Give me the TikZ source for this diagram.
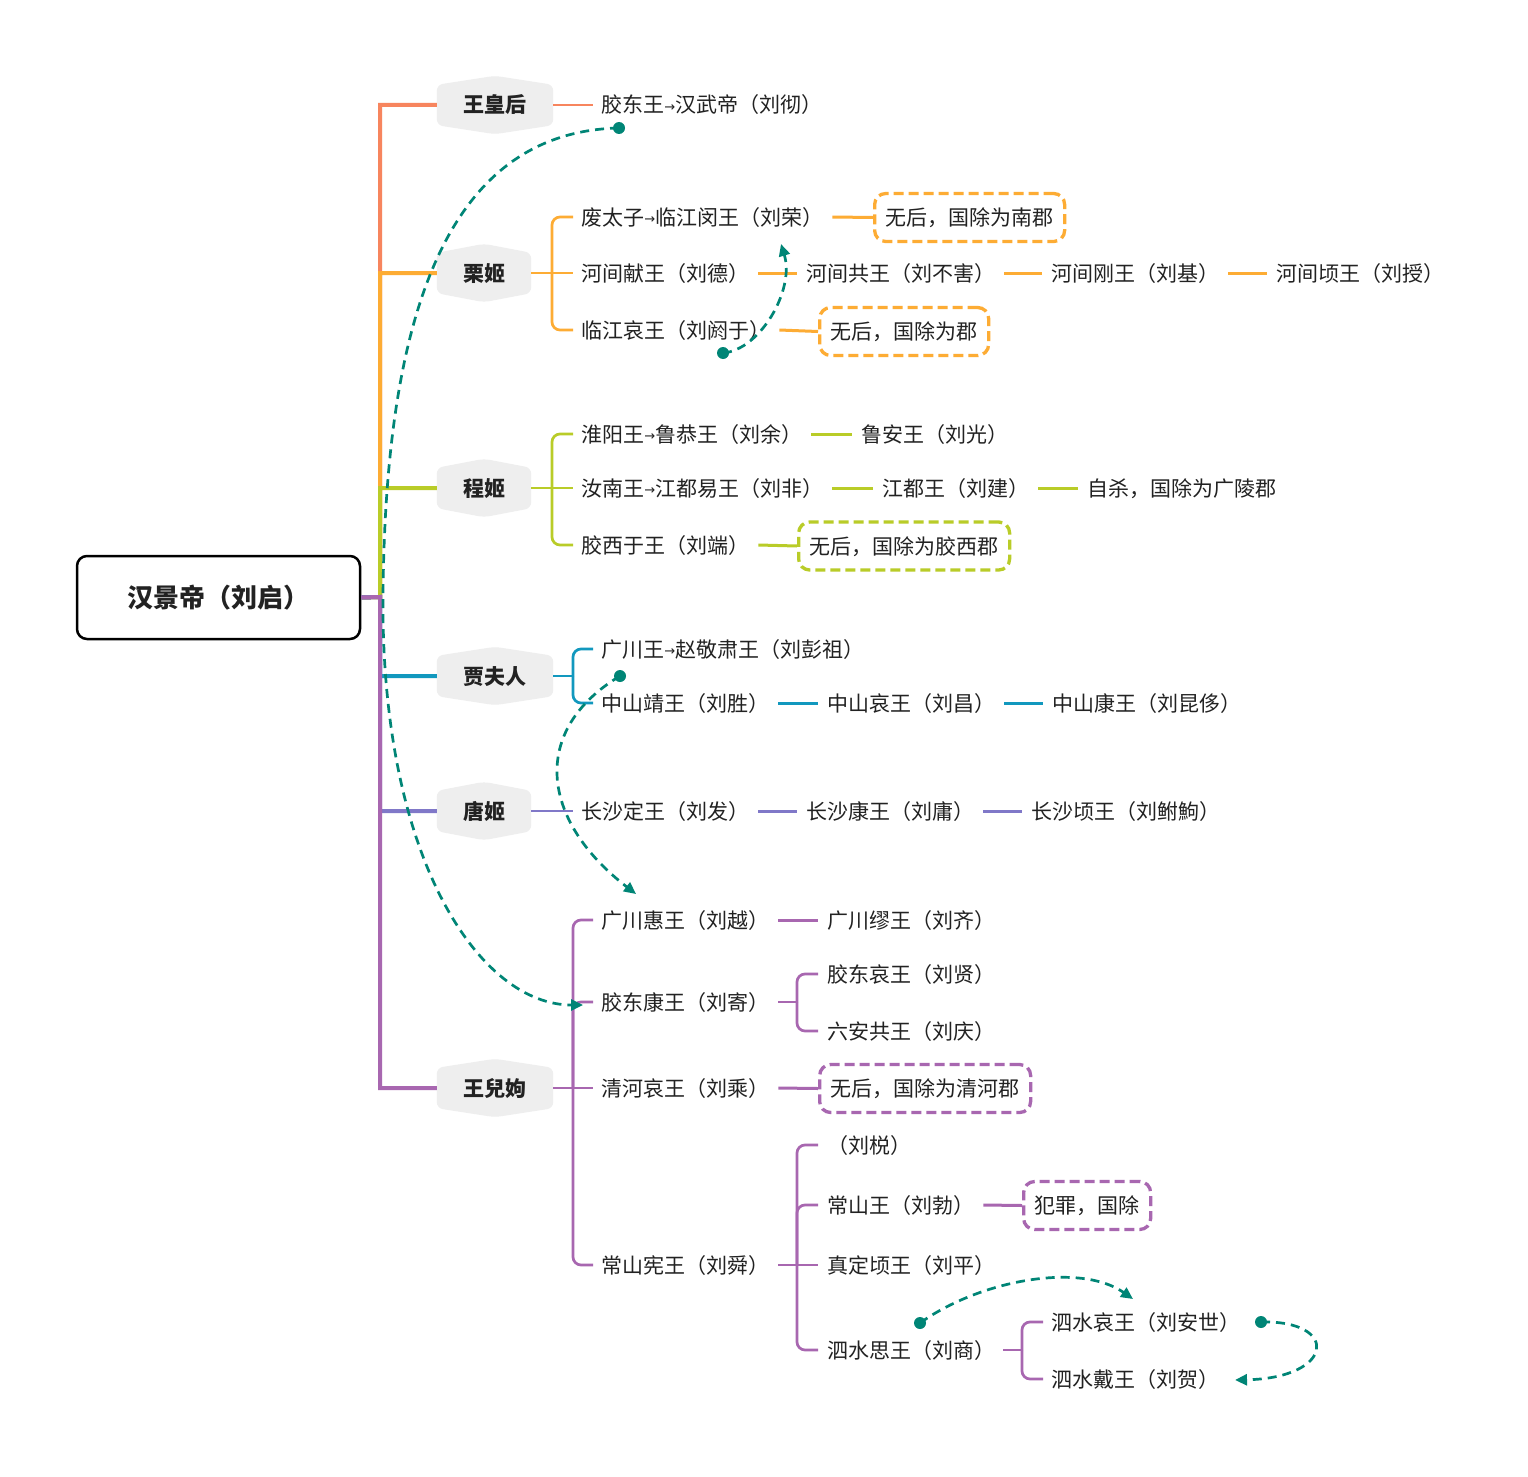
\documentclass[tikz,border=0pt]{standalone}
\usepackage{fontspec}
\setmainfont{Noto Sans CJK SC}
\newfontfamily\dvsans{DejaVu Sans}
\usetikzlibrary{arrows.meta,backgrounds}
\definecolor{cA}{RGB}{247,133,94}
\definecolor{cB}{RGB}{253,172,52}
\definecolor{cC}{RGB}{185,204,40}
\definecolor{cD}{RGB}{18,152,190}
\definecolor{cE}{RGB}{128,120,200}
\definecolor{cF}{RGB}{168,103,176}
\definecolor{relc}{RGB}{0,133,118}
\definecolor{hexgray}{RGB}{238,238,238}
\definecolor{txtc}{RGB}{34,34,34}
\newcommand\arr{\makebox[11pt][c]{\raisebox{1.5pt}{\dvsans\fontsize{13}{13}\selectfont →}}}
\newcommand\hexbg[1]{\fill[hexgray, rounded corners=6pt] ([yshift=-9pt]#1.north west) -- (#1.north) -- ([yshift=-9pt]#1.north east) -- ([yshift=9pt]#1.south east) -- (#1.south) -- ([yshift=9pt]#1.south west) -- cycle;}
\newcommand\lnk[3]{\draw[link,#1] ([xshift=9pt]#2.east) -- ([xshift=-9pt]#3.west);}
\newcommand\lnkbox[3]{\draw[link,#1] ([xshift=9pt]#2.east) -- (#3.west);}
\begin{document}
\begin{tikzpicture}[x=1pt,y=-1pt,
  txt/.style={anchor=west, inner sep=0pt, text height=18pt, text depth=2pt, font=\fontsize{21}{21}\selectfont, text=txtc},
  hex/.style={inner sep=0pt, minimum height=58pt, text height=18pt, text depth=2pt, font=\fontsize{21}{21}\selectfont\bfseries, text=txtc},
  dbox/.style={anchor=west, draw=#1, dash pattern=on 10pt off 5pt, line width=3.3pt, rounded corners=11pt, inner xsep=11pt, inner ysep=0pt, minimum height=48pt, text height=18pt, text depth=2pt, font=\fontsize{21}{21}\selectfont, text=txtc},
  trunk/.style={line width=4pt},
  br/.style={line width=2.7pt, rounded corners=8pt},
  link/.style={line width=3pt},
  rel/.style={draw=relc, dash pattern=on 9pt off 6pt, line width=2.7pt, -{Triangle[length=12pt,width=11pt]}}
]
\useasboundingbox (0,0) rectangle (1528,1477);

% root
\node[draw=black, line width=2.5pt, rounded corners=10pt, minimum width=283pt, minimum height=83pt, inner sep=0pt,
  text height=22pt, text depth=3pt, font=\fontsize{26}{26}\selectfont\bfseries, text=txtc] (root) at (218.5,597.5) {汉景帝（刘启）};

% mothers
\node[hex, minimum width=116pt] (h1) at (495,105) {王皇后};
\node[hex, minimum width=94pt] (h2) at (484,273) {栗姬};
\node[hex, minimum width=94pt] (h3) at (484,488) {程姬};
\node[hex, minimum width=116pt] (h4) at (495,676) {贾夫人};
\node[hex, minimum width=94pt] (h5) at (484,811) {唐姬};
\node[hex, minimum width=116pt] (h6) at (495,1088) {王兒姁};

\begin{scope}[on background layer]
\fill[white] (0,0) rectangle (1528,1477);
\hexbg{h1}\hexbg{h2}\hexbg{h3}\hexbg{h4}\hexbg{h5}\hexbg{h6}
\end{scope}

% trunk
\coordinate (tr) at (380,597);
\draw[trunk,cA] (root.east) -- (tr) |- (h1.west);
\draw[trunk,cB] (root.east) -- (tr) |- (h2.west);
\draw[trunk,cC] (root.east) -- (tr) |- (h3.west);
\draw[trunk,cD] (root.east) -- (tr) |- (h4.west);
\draw[trunk,cE] (root.east) -- (tr) |- (h5.west);
\draw[trunk,cF] (root.east) -- (tr) |- (h6.west);

% 王皇后
\node[txt] (t1) at (601,105) {胶东王\arr 汉武帝（刘彻）};
\draw[br,cA] (h1.east) -- ([xshift=-8pt]t1.west);

% 栗姬
\node[txt] (t21) at (581,217) {废太子\arr 临江闵王（刘荣）};
\node[dbox=cB] (b21) at (873,217.5) {无后，国除为南郡};
\node[txt] (t22) at (581,273) {河间献王（刘德）};
\node[txt] (t221) at (806,273) {河间共王（刘不害）};
\node[txt] (t222) at (1051,273) {河间刚王（刘基）};
\node[txt] (t223) at (1276,273) {河间顷王（刘授）};
\node[txt] (t23) at (581,330) {临江哀王（刘阏于）};
\node[dbox=cB] (b23) at (818,331.5) {无后，国除为郡};
\coordinate (k2) at (552,273);
\draw[br,cB] (h2.east) -- ([xshift=-8pt]t22.west);
\draw[br,cB] (k2) |- ([xshift=-8pt]t21.west);
\draw[br,cB] (k2) |- ([xshift=-8pt]t23.west);
\lnkbox{cB}{t21}{b21}
\lnk{cB}{t22}{t221}
\lnk{cB}{t221}{t222}
\lnk{cB}{t222}{t223}
\lnkbox{cB}{t23}{b23}

% 程姬
\node[txt] (t31) at (581,434) {淮阳王\arr 鲁恭王（刘余）};
\node[txt] (t311) at (861,434) {鲁安王（刘光）};
\node[txt] (t32) at (581,488) {汝南王\arr 江都易王（刘非）};
\node[txt] (t321) at (882,488) {江都王（刘建）};
\node[txt] (t322) at (1087,488) {自杀，国除为广陵郡};
\node[txt] (t33) at (581,545) {胶西于王（刘端）};
\node[dbox=cC] (b33) at (797,546) {无后，国除为胶西郡};
\coordinate (k3) at (552,488);
\draw[br,cC] (h3.east) -- ([xshift=-8pt]t32.west);
\draw[br,cC] (k3) |- ([xshift=-8pt]t31.west);
\draw[br,cC] (k3) |- ([xshift=-8pt]t33.west);
\lnk{cC}{t31}{t311}
\lnk{cC}{t32}{t321}
\lnk{cC}{t321}{t322}
\lnkbox{cC}{t33}{b33}

% 贾夫人
\node[txt] (t41) at (601,649) {广川王\arr 赵敬肃王（刘彭祖）};
\node[txt] (t42) at (601,703) {中山靖王（刘胜）};
\node[txt] (t421) at (827,703) {中山哀王（刘昌）};
\node[txt] (t422) at (1052,703) {中山康王（刘昆侈）};
\coordinate (k4) at (573,676);
\draw[br,cD] (h4.east) -- (k4);
\draw[br,cD] (k4) |- ([xshift=-8pt]t41.west);
\draw[br,cD] (k4) |- ([xshift=-8pt]t42.west);
\lnk{cD}{t42}{t421}
\lnk{cD}{t421}{t422}

% 唐姬
\node[txt] (t51) at (581,811) {长沙定王（刘发）};
\node[txt] (t511) at (806,811) {长沙康王（刘庸）};
\node[txt] (t512) at (1031,811) {长沙顷王（刘鲋鮈）};
\draw[br,cE] (h5.east) -- ([xshift=-8pt]t51.west);
\lnk{cE}{t51}{t511}
\lnk{cE}{t511}{t512}

% 王兒姁
\node[txt] (t61) at (601,920) {广川惠王（刘越）};
\node[txt] (t611) at (827,920) {广川缪王（刘齐）};
\node[txt] (t62) at (601,1002) {胶东康王（刘寄）};
\node[txt] (t621) at (827,974) {胶东哀王（刘贤）};
\node[txt] (t622) at (827,1031) {六安共王（刘庆）};
\node[txt] (t63) at (601,1088) {清河哀王（刘乘）};
\node[dbox=cF] (b63) at (818,1088.5) {无后，国除为清河郡};
\node[txt] (t64) at (601,1265) {常山宪王（刘舜）};
\node[txt] (t641) at (827,1145) {（刘棁）};
\node[txt] (t642) at (827,1205) {常山王（刘勃）};
\node[dbox=cF] (b642) at (1022,1205.5) {犯罪，国除};
\node[txt] (t643) at (827,1265) {真定顷王（刘平）};
\node[txt] (t644) at (827,1350) {泗水思王（刘商）};
\node[txt] (t6441) at (1051,1322) {泗水哀王（刘安世）};
\node[txt] (t6442) at (1051,1379) {泗水戴王（刘贺）};
\coordinate (k6) at (573,1088);
\draw[br,cF] (h6.east) -- ([xshift=-8pt]t63.west);
\draw[br,cF] (k6) |- ([xshift=-8pt]t61.west);
\draw[br,cF] (k6) |- ([xshift=-8pt]t62.west);
\draw[br,cF] (k6) |- ([xshift=-8pt]t64.west);
\lnk{cF}{t61}{t611}
\coordinate (k62) at (797,1002);
\draw[br,cF] ([xshift=9pt]t62.east) -- (k62);
\draw[br,cF] (k62) |- ([xshift=-9pt]t621.west);
\draw[br,cF] (k62) |- ([xshift=-9pt]t622.west);
\lnkbox{cF}{t63}{b63}
\coordinate (k64) at (797,1265);
\draw[br,cF] ([xshift=9pt]t64.east) -- ([xshift=-9pt]t643.west);
\draw[br,cF] (k64) |- ([xshift=-9pt]t641.west);
\draw[br,cF] (k64) |- ([xshift=-9pt]t642.west);
\draw[br,cF] (k64) |- ([xshift=-9pt]t644.west);
\lnkbox{cF}{t642}{b642}
\coordinate (k644) at (1022,1350);
\draw[br,cF] ([xshift=8pt]t644.east) -- (k644);
\draw[br,cF] (k644) |- ([xshift=-8pt]t6441.west);
\draw[br,cF] (k644) |- ([xshift=-8pt]t6442.west);

% relation connectors
\coordinate (d1) at (619,128);  \coordinate (e1) at (583,1005);
\coordinate (d2) at (723,353);  \coordinate (e2) at (781,244);
\coordinate (d3) at (620,676);  \coordinate (e3) at (636,894);
\coordinate (d4) at (920,1323); \coordinate (e4) at (1133,1299);
\coordinate (d5) at (1261,1322);\coordinate (e5) at (1235,1380);
\draw[rel] (d1) .. controls (440,132) and (385,330) .. (383,597) .. controls (381,860) and (480,1005) .. (e1);
\draw[rel] (d2) .. controls (760,350) and (795,290) .. (e2);
\draw[rel] (d3) .. controls (530,730) and (540,820) .. (e3);
\draw[rel] (d4) .. controls (980,1280) and (1080,1262) .. (e4);
\draw[rel] (d5) .. controls (1340,1320) and (1335,1378) .. (e5);
\foreach \d in {d1,d2,d3,d4,d5} \fill[relc] (\d) circle (6pt);
\end{tikzpicture}
\end{document}
